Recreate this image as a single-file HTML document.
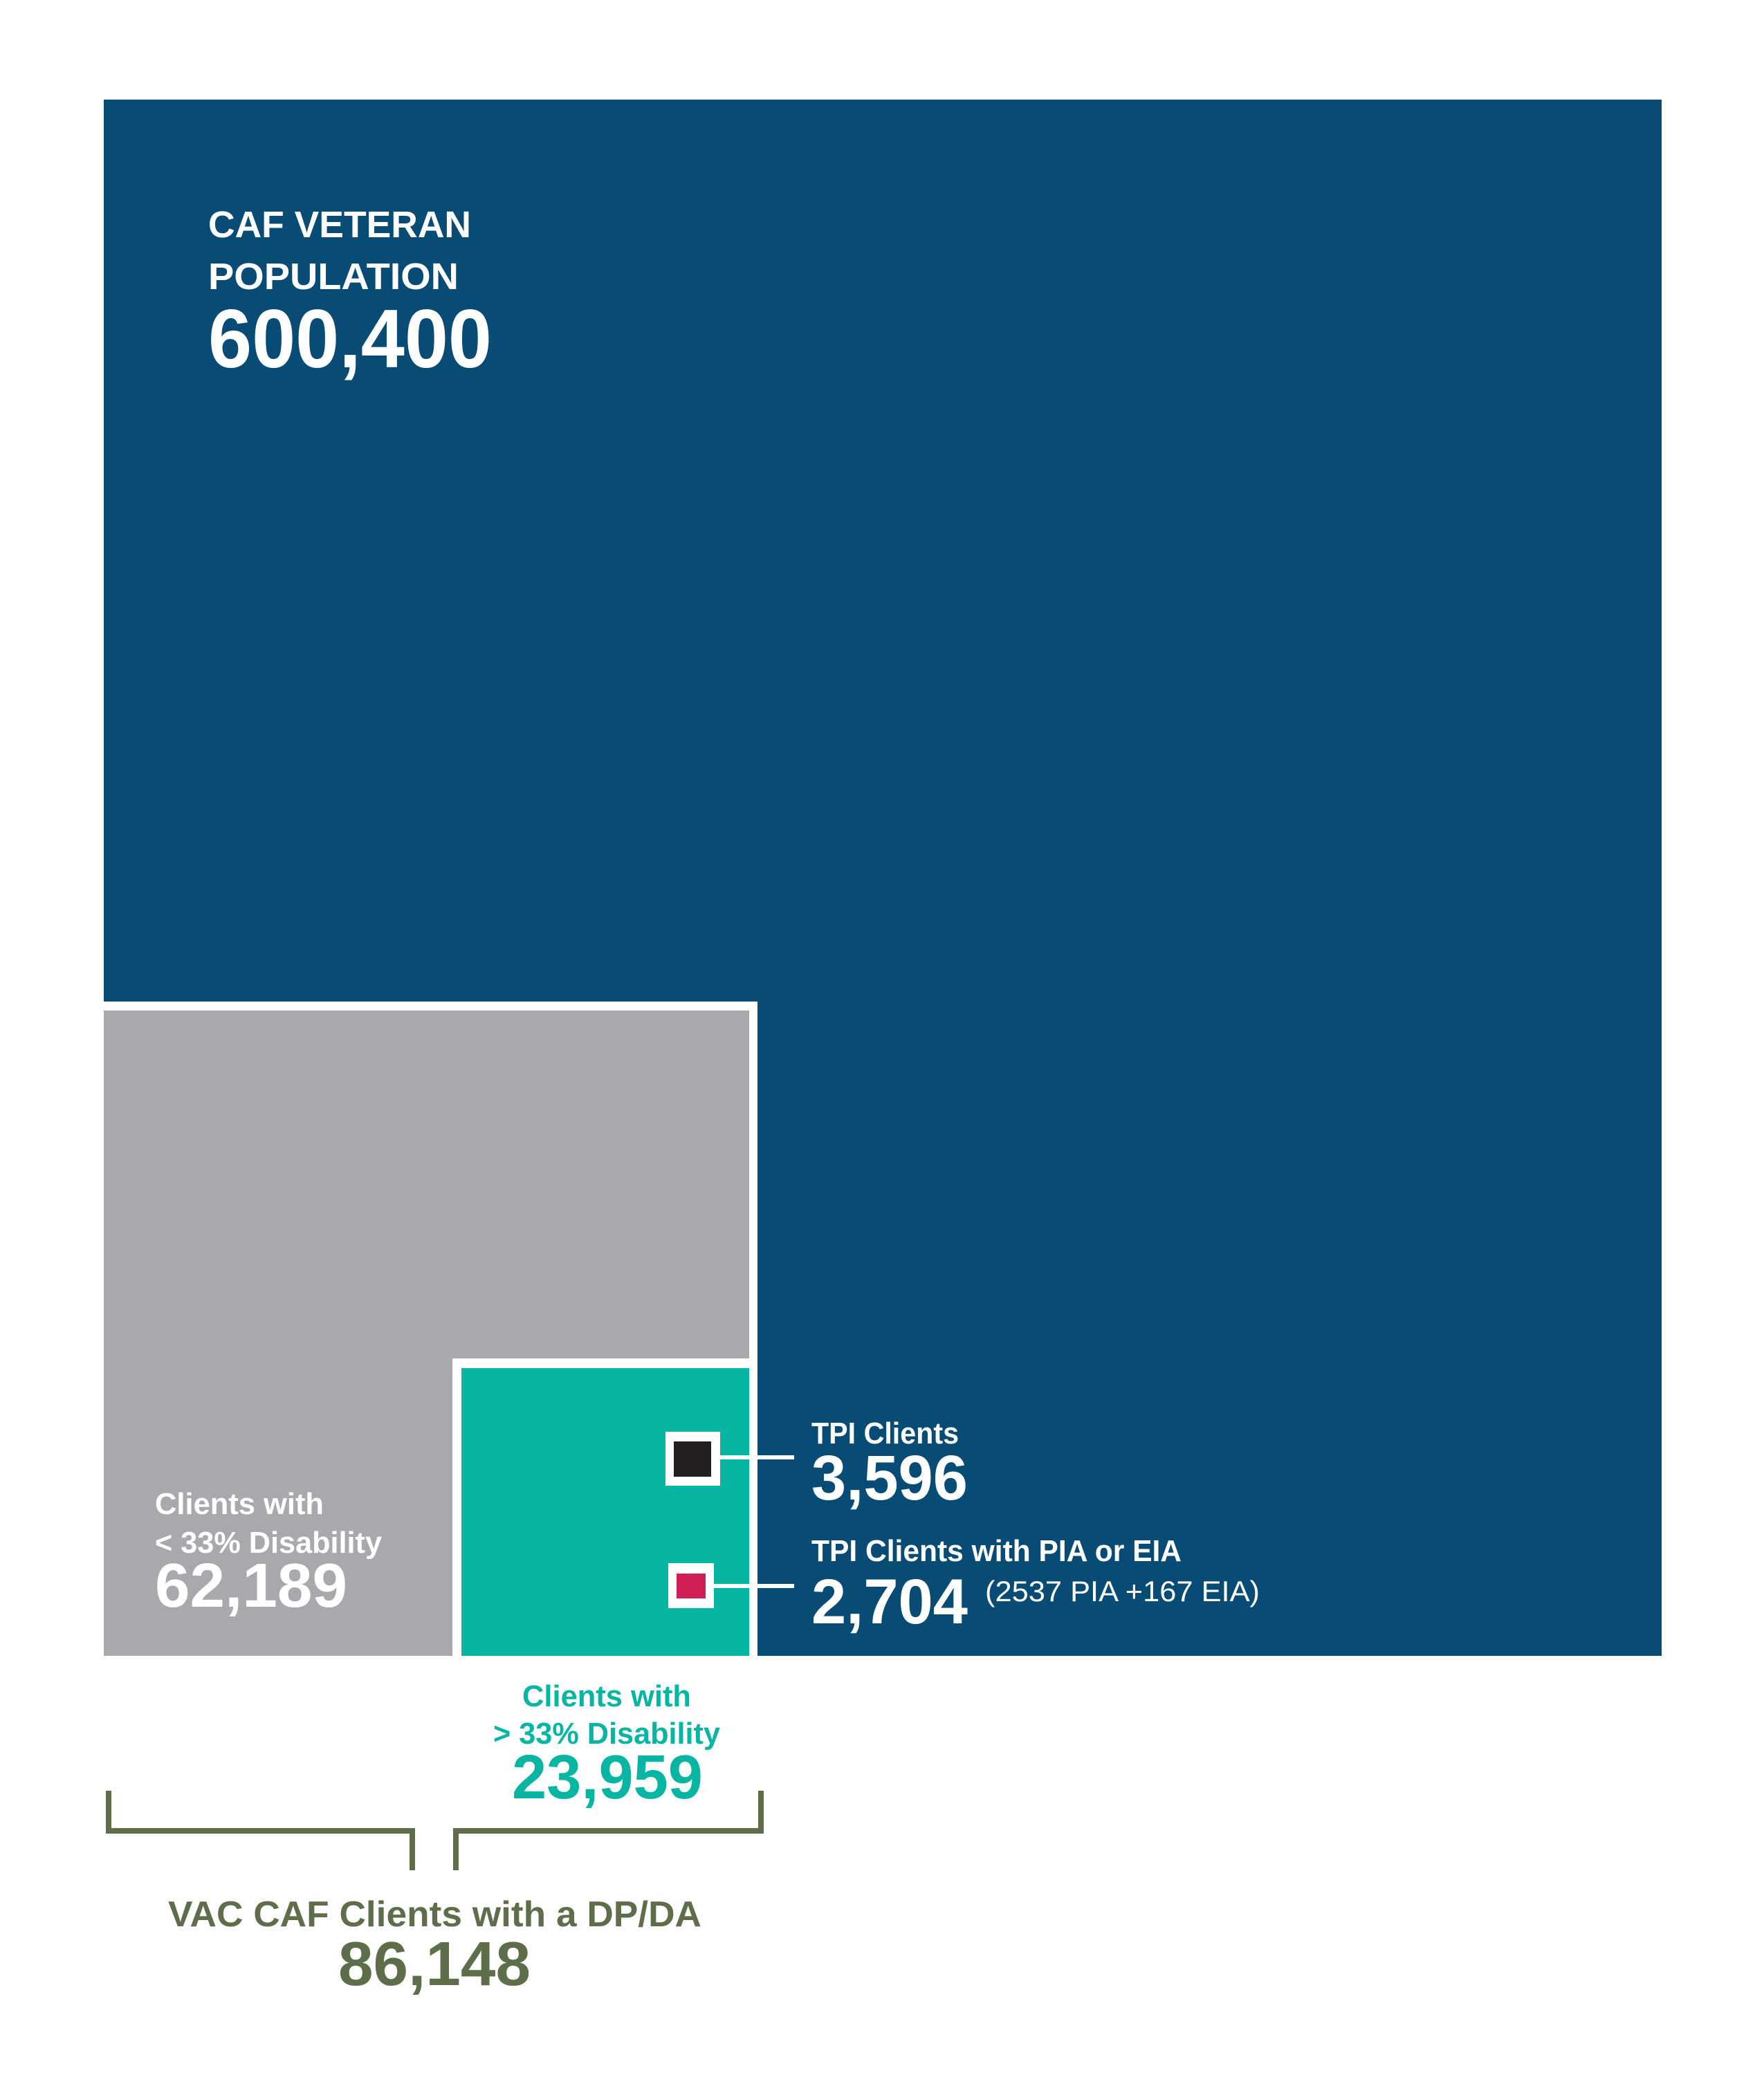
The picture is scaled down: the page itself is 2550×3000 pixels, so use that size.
<!DOCTYPE html>
<html><head><meta charset="utf-8"><style>
html,body{margin:0;padding:0;background:#fff;}
svg{display:block;}
text{font-family:"Liberation Sans",sans-serif;font-weight:bold;}
</style></head><body>
<svg width="2550" height="3000" viewBox="0 0 2550 3000">
<rect x="0" y="0" width="2550" height="3000" fill="#fff"/>
<rect x="150" y="144" width="2252" height="2250" fill="#084c75"/>
<rect x="150" y="1448" width="945" height="946" fill="#fff"/>
<rect x="150" y="1461" width="933" height="933" fill="#a8a9ad"/>
<rect x="654" y="1964" width="441" height="430" fill="#fff"/>
<rect x="667" y="1978" width="416" height="416" fill="#06b6a3"/>
<rect x="962" y="2070" width="79" height="78" fill="#fff"/>
<rect x="974" y="2084" width="54" height="51" fill="#231f20"/>
<rect x="966" y="2260" width="66" height="65" fill="#fff"/>
<rect x="978" y="2275" width="42" height="36" fill="#cf1f54"/>
<line x1="1041" y1="2107" x2="1148" y2="2107" stroke="#fff" stroke-width="6"/>
<line x1="1032" y1="2293" x2="1148" y2="2293" stroke="#fff" stroke-width="6"/>

<g fill="#fff">
<text x="301" y="343" font-size="54" textLength="380" lengthAdjust="spacingAndGlyphs">CAF VETERAN</text>
<text x="301" y="418" font-size="54" textLength="362" lengthAdjust="spacingAndGlyphs">POPULATION</text>
<text x="301" y="531" font-size="120" textLength="410" lengthAdjust="spacingAndGlyphs">600,400</text>
</g>
<g fill="#fff">
<text x="224" y="2189" font-size="44" textLength="244" lengthAdjust="spacingAndGlyphs">Clients with</text>
<text x="224" y="2245" font-size="44" textLength="328" lengthAdjust="spacingAndGlyphs">&lt; 33% Disability</text>
<text x="224" y="2323" font-size="90" textLength="278" lengthAdjust="spacingAndGlyphs">62,189</text>
</g>
<g fill="#fff">
<text x="1173" y="2087" font-size="44" textLength="213" lengthAdjust="spacingAndGlyphs">TPI Clients</text>
<text x="1173" y="2168" font-size="92" textLength="226" lengthAdjust="spacingAndGlyphs">3,596</text>
<text x="1173" y="2257" font-size="44" textLength="535" lengthAdjust="spacingAndGlyphs">TPI Clients with PIA or EIA</text>
<text x="1173" y="2347" font-size="92" textLength="226" lengthAdjust="spacingAndGlyphs">2,704</text>
<text x="1424" y="2315" font-size="42" font-weight="normal" style="font-weight:normal" textLength="397" lengthAdjust="spacingAndGlyphs">(2537 PIA +167 EIA)</text>
</g>
<g fill="#06b6a3">
<text x="755" y="2467" font-size="44" textLength="244" lengthAdjust="spacingAndGlyphs">Clients with</text>
<text x="713" y="2521" font-size="44" textLength="328" lengthAdjust="spacingAndGlyphs">&gt; 33% Disability</text>
<text x="740" y="2600" font-size="90" textLength="276" lengthAdjust="spacingAndGlyphs">23,959</text>
</g>
<path d="M157 2589 V2647 H596 V2704 M659 2704 V2647 H1100 V2589" fill="none" stroke="#5e6e4b" stroke-width="8"/>
<g fill="#5e6e4b">
<text x="243" y="2785" font-size="52" textLength="771" lengthAdjust="spacingAndGlyphs">VAC CAF Clients with a DP/DA</text>
<text x="489" y="2870" font-size="90" textLength="278" lengthAdjust="spacingAndGlyphs">86,148</text>
</g>
</svg>
</body></html>
